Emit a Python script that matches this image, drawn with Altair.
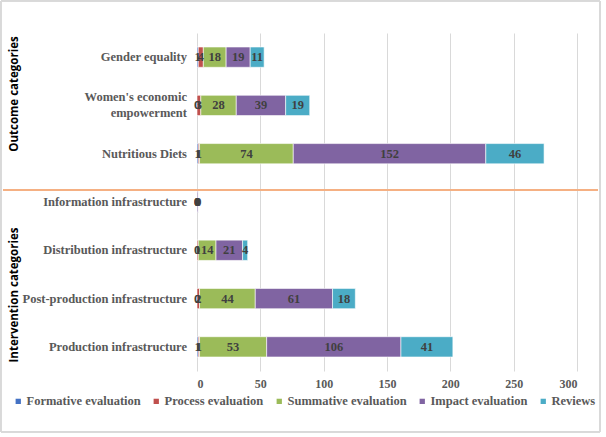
import altair as alt
import pandas as pd

categories = [
    "Gender equality",
    "Women's economic empowerment",
    "Nutritious Diets",
    "Information infrastructure",
    "Distribution infrastructure",
    "Post-production infrastructure",
    "Production infrastructure",
]
category_text = [
    "Gender equality",
    "Women's economic\nempowerment",
    "Nutritious Diets",
    "Information infrastructure",
    "Distribution infrastructure",
    "Post-production infrastructure",
    "Production infrastructure",
]
series = [
    "Formative evaluation",
    "Process evaluation",
    "Summative evaluation",
    "Impact evaluation",
    "Reviews",
]
formative = [1, 0, 1, 0, 0, 0, 1]
process = [4, 3, 1, 0, 1, 2, 1]
summative = [18, 28, 74, 0, 14, 44, 53]
impact = [19, 39, 152, 1, 21, 61, 106]
reviews = [11, 19, 46, 0, 4, 18, 41]
colors = ["#4472C4", "#C0504D", "#9BBB59", "#8064A2", "#4BACC6"]
x_ticks = [0, 50, 100, 150, 200, 250, 300]

rows = []
for s_idx, (name, vals) in enumerate(
    zip(series, [formative, process, summative, impact, reviews])
):
    for cat, v in zip(categories, vals):
        rows.append({"category": cat, "series": name, "order": s_idx, "value": v})
df = pd.DataFrame(rows)
cat_df = pd.DataFrame(
    {
        "category": categories,
        "text": category_text,
        "lines": [t.count("\n") + 1 for t in category_text],
    }
)

W, H = 380, 338
serif = "Liberation Serif"
gray = "#595959"
line_h = 16

y_scale = alt.Scale(domain=categories, paddingInner=0.58, paddingOuter=0.29)
x_scale = alt.Scale(domain=[0, 300], nice=False)

base = alt.Chart(df).transform_stack(
    stack="value",
    groupby=["category"],
    sort=[alt.SortField("order", order="ascending")],
    as_=["v0", "v1"],
).transform_calculate(mid="(datum.v0 + datum.v1) / 2")

bars = base.mark_bar(stroke="white", strokeWidth=0.6).encode(
    x=alt.X(
        "v0:Q",
        scale=x_scale,
        axis=alt.Axis(
            title=None,
            values=x_ticks,
            domain=False,
            ticks=False,
            grid=True,
            gridColor="#D9D9D9",
            labelPadding=7,
            labelFont=serif,
            labelFontWeight="bold",
            labelFontSize=12,
            labelColor=gray,
        ),
    ),
    x2="v1:Q",
    y=alt.Y("category:N", scale=y_scale, axis=None),
    color=alt.Color(
        "series:N",
        sort=series,
        scale=alt.Scale(domain=series, range=colors),
        legend=alt.Legend(
            title=None,
            orient="none",
            direction="horizontal",
            legendX=-185,
            legendY=362,
            symbolType="square",
            symbolSize=28,
            symbolStrokeWidth=0,
            labelFont=serif,
            labelFontWeight="bold",
            labelFontSize=12.5,
            labelColor=gray,
            labelOffset=2,
            columnPadding=9,
            labelLimit=200,
        ),
    ),
    order=alt.Order("order:Q"),
)

labels = base.mark_text(
    font=serif, fontWeight="bold", fontSize=12.5, color="#404040"
).encode(
    x=alt.X("mid:Q", scale=x_scale),
    y=alt.Y("category:N", scale=y_scale),
    text="value:Q",
)

label_style = dict(
    font=serif,
    fontWeight="bold",
    fontSize=12.5,
    color=gray,
    align="right",
    baseline="middle",
    lineBreak="\n",
    lineHeight=line_h,
)
label_enc = dict(
    x=alt.value(-10),
    y=alt.Y("category:N", scale=y_scale),
    text="text:N",
)
# single-line category names sit on the band centre
cat_single = (
    alt.Chart(cat_df)
    .transform_filter("datum.lines == 1")
    .mark_text(**label_style)
    .encode(**label_enc)
)
# two-line names are lifted by half a line so the block is centred
cat_double = (
    alt.Chart(cat_df)
    .transform_filter("datum.lines == 2")
    .mark_text(dy=-line_h / 2, **label_style)
    .encode(**label_enc)
)

divider = alt.Chart(df).mark_rule(color="#F4B183", strokeWidth=1.5).encode(
    x=alt.value(-194), x2=alt.value(401), y=alt.value(157)
)

group_titles = pd.DataFrame(
    {
        "title": ["Outcome categories", "Intervention categories"],
        "ypos": [61, 262],
    }
)
titles = alt.Chart(group_titles).mark_text(
    font="Open Sans", fontWeight="bold", fontSize=11.5, color="black", angle=270
).encode(x=alt.value(-182), y=alt.Y("ypos:Q", scale=None), text="title:N")

frame = alt.Chart(df).mark_rect(filled=False, stroke="#D9D9D9", strokeWidth=1).encode(
    x=alt.value(-196), x2=alt.value(403), y=alt.value(-32), y2=alt.value(399)
)

chart = (
    alt.layer(bars, labels, cat_single, cat_double, divider, titles, frame)
    .properties(
        width=W,
        height=H,
        autosize=alt.AutoSizeParams(type="none"),
        padding={"left": 197, "top": 33, "right": 29, "bottom": 66},
    )
    .configure_view(stroke=None)
)

chart.save("out.html", embed_options={"renderer": "svg", "actions": False})
